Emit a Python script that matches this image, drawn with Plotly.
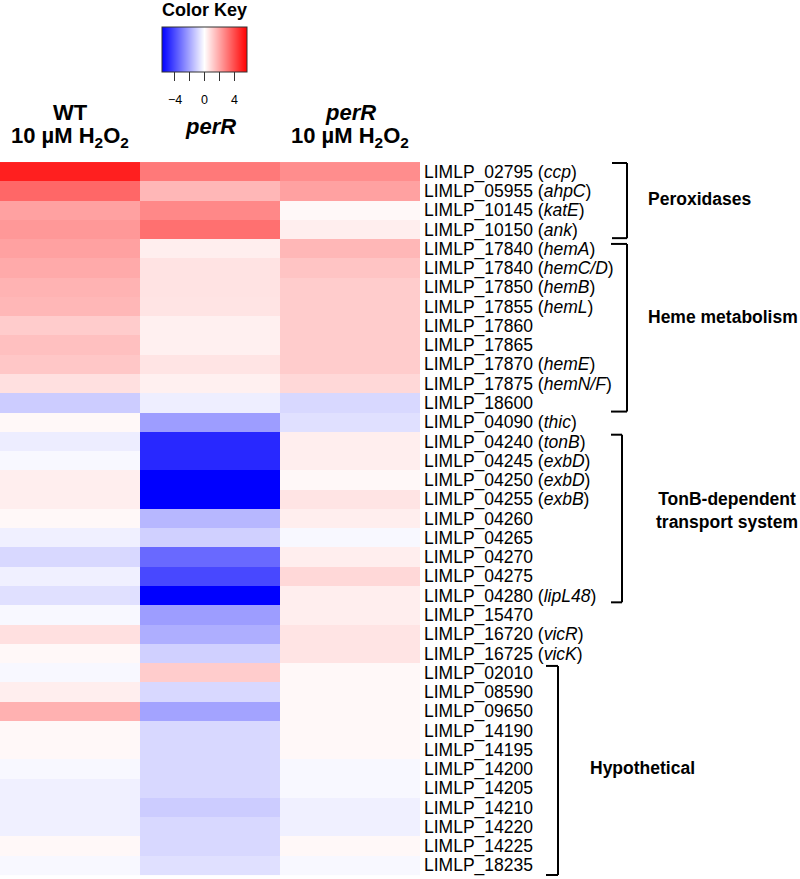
import plotly.graph_objects as go

W, H = 800, 879

# ---------------- data ----------------
gene_ids = ["LIMLP_02795", "LIMLP_05955", "LIMLP_10145", "LIMLP_10150", "LIMLP_17840",
            "LIMLP_17840", "LIMLP_17850", "LIMLP_17855", "LIMLP_17860", "LIMLP_17865",
            "LIMLP_17870", "LIMLP_17875", "LIMLP_18600", "LIMLP_04090", "LIMLP_04240",
            "LIMLP_04245", "LIMLP_04250", "LIMLP_04255", "LIMLP_04260", "LIMLP_04265",
            "LIMLP_04270", "LIMLP_04275", "LIMLP_04280", "LIMLP_15470", "LIMLP_16720",
            "LIMLP_16725", "LIMLP_02010", "LIMLP_08590", "LIMLP_09650", "LIMLP_14190",
            "LIMLP_14195", "LIMLP_14200", "LIMLP_14205", "LIMLP_14210", "LIMLP_14220",
            "LIMLP_14225", "LIMLP_18235"]
gene_names = ["ccp", "ahpC", "katE", "ank", "hemA", "hemC/D", "hemB", "hemL", "", "",
              "hemE", "hemN/F", "", "thic", "tonB", "exbD", "exbD", "exbB", "", "",
              "", "", "lipL48", "", "vicR", "vicK", "", "", "", "",
              "", "", "", "", "", "", ""]

conditions = ["WT 10 µM H2O2", "perR", "perR 10 µM H2O2"]

wt_h2o2 = [5.0, 3.4, 2.1, 2.3, 2.1, 1.9, 1.7, 1.6, 1.15, 1.4,
           1.25, 0.7, -1.15, 0.15, -0.4, -0.15, 0.38, 0.38, 0.15, -0.34,
           -0.87, -0.34, -0.7, -0.16, 0.7, 0.16, -0.16, 0.38, 1.75, 0.16,
           0.16, -0.16, -0.34, -0.34, -0.34, 0.16, -0.16]
perr = [3.0, 1.6, 2.65, 3.2, 0.38, 0.62, 0.62, 0.6, 0.34, 0.34,
        0.6, 0.34, -0.38, -2.2, -4.8, -4.8, -5.7, -5.7, -1.6, -1.05,
        -3.35, -4.1, -5.7, -2.2, -1.8, -1.05, 1.15, -0.87, -2.05, -0.87,
        -0.87, -0.87, -0.87, -1.15, -0.87, -0.87, -0.7]
perr_h2o2 = [2.55, 2.1, 0.16, 0.38, 1.6, 1.32, 1.15, 1.15, 1.15, 1.15,
             1.15, 0.87, -0.87, -0.7, 0.38, 0.38, 0.16, 0.6, 0.38, -0.16,
             0.38, 0.87, 0.38, 0.38, 0.6, 0.6, 0.16, 0.16, 0.16, 0.16,
             0.16, -0.16, -0.16, -0.34, -0.34, 0.16, -0.16]

key_min, key_max = -5.7, 5.7
key_ticks = [-4, -2, 0, 2, 4]
key_labels = [-4, 0, 4]

group_labels = ["<b>Peroxidases</b>", "<b>Heme metabolism</b>",
                "<b>TonB-dependent<br>transport system</b>", "<b>Hypothetical</b>"]
group_first = [0, 4, 14, 26]
group_last = [3, 12, 22, 36]

# ---------------- figure ----------------
row_labels = [f"{g} (<i>{n}</i>)" if n else g for g, n in zip(gene_ids, gene_names)]
z = [[a, b, c] for a, b, c in zip(wt_h2o2, perr, perr_h2o2)]

def px(x):
    return x / W

def py(y):
    return 1 - y / H

FONT = "Liberation Sans, Arial, Helvetica, sans-serif"

KEY_CX, KEY_LEN = 204.5, 85

fig = go.Figure()
fig.add_trace(go.Heatmap(
    z=z, x=conditions, y=row_labels,
    colorscale=[[0, "#0000FF"], [0.5, "#FFFFFF"], [1, "#FF0000"]],
    zmin=key_min, zmax=key_max,
    colorbar=dict(
        orientation="h", x=px(KEY_CX), xanchor="center", y=py(27), yanchor="top",
        lenmode="pixels", len=KEY_LEN, thickness=45, thicknessmode="pixels",
        xpad=0, ypad=0, outlinewidth=1, outlinecolor="#333333",
        tickmode="array", tickvals=key_ticks, showticklabels=False,
        ticks="outside", ticklen=9, tickwidth=1.2, tickcolor="#333333",
    ),
    hoverinfo="skip",
))

fig.update_layout(
    width=W, height=H,
    margin=dict(l=0, r=0, t=0, b=0, pad=0),
    paper_bgcolor="white", plot_bgcolor="white",
    font=dict(family=FONT, color="black"),
    xaxis=dict(domain=[0, px(420)], showticklabels=False, ticks="", showgrid=False,
               zeroline=False, showline=False),
    yaxis=dict(domain=[py(876), py(162)], autorange="reversed", side="right",
               tickmode="array", tickvals=row_labels, ticktext=row_labels,
               ticks="", showgrid=False, zeroline=False, showline=False,
               ticklabelstandoff=3,
               tickfont=dict(family=FONT, size=17.5, color="black")),
)

# colour key tick labels (placed on the key's own value scale)
for v in key_labels:
    xk = KEY_CX + (v - (key_min + key_max) / 2) * KEY_LEN / (key_max - key_min)
    fig.add_annotation(x=px(xk), xref="paper", y=py(100), yref="paper",
                       text=("\u2212" + str(abs(v))) if v < 0 else str(v),
                       showarrow=False, font=dict(family=FONT, size=12.5, color="black"),
                       xanchor="center", yanchor="middle")

# column headers
hdr = dict(family=FONT, size=22, color="black")
fig.add_annotation(x=conditions[0], xref="x", y=py(112), yref="paper", text="<b>WT</b>",
                   showarrow=False, font=hdr, xanchor="center", yanchor="middle")
fig.add_annotation(x=conditions[0], xref="x", y=py(137), yref="paper",
                   text="<b>10 µM H<sub>2</sub>O<sub>2</sub></b>",
                   showarrow=False, font=hdr, xanchor="center", yanchor="middle")
fig.add_annotation(x=conditions[1], xref="x", y=py(126), yref="paper", text="<b><i>perR</i></b>",
                   showarrow=False, font=hdr, xanchor="center", yanchor="middle")
fig.add_annotation(x=conditions[2], xref="x", y=py(112), yref="paper", text="<b><i>perR</i></b>",
                   showarrow=False, font=hdr, xanchor="center", yanchor="middle")
fig.add_annotation(x=conditions[2], xref="x", y=py(137), yref="paper",
                   text="<b>10 µM H<sub>2</sub>O<sub>2</sub></b>",
                   showarrow=False, font=hdr, xanchor="center", yanchor="middle")

# color key title
fig.add_annotation(x=px(KEY_CX), xref="paper", y=py(10), yref="paper", text="<b>Color Key</b>",
                   showarrow=False, font=dict(family=FONT, size=18, color="black"),
                   xanchor="center", yanchor="middle")

# brackets and group labels
bracket_geom = [  # (tick start x, vertical x, top inset, bottom inset)
    (612, 627, 0.05, 0.05),
    (611, 627, 0.25, 0.05),
    (611, 622, 0.15, 0.15),
    (546, 558, 0.15, 0.0),
]
label_pos = [(699, 199), (723, 317), (727, 510), (642, 768)]
for i in range(len(group_labels)):
    xs, xv, ti, bi = bracket_geom[i]
    top = group_first[i] - 0.5 + ti
    bot = group_last[i] + 0.5 - bi
    line = dict(color="black", width=2)
    fig.add_shape(type="line", xref="paper", yref="y", x0=px(xs), x1=px(xv), y0=top, y1=top, line=line)
    fig.add_shape(type="line", xref="paper", yref="y", x0=px(xv), x1=px(xv), y0=top, y1=bot, line=line)
    fig.add_shape(type="line", xref="paper", yref="y", x0=px(xs), x1=px(xv), y0=bot, y1=bot, line=line)
    lx, ly = label_pos[i]
    fig.add_annotation(x=px(lx), xref="paper", y=py(ly), yref="paper", text=group_labels[i],
                       showarrow=False, font=dict(family=FONT, size=17.5, color="black"),
                       xanchor="center", yanchor="middle", align="center")

fig.write_html("out.html", config={"displayModeBar": False},
               post_script="document.body.style.margin='0px';")
